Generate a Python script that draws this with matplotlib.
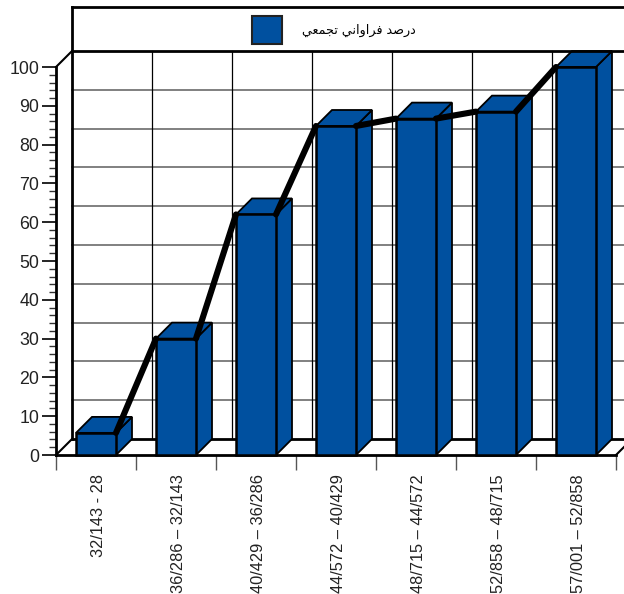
import matplotlib
matplotlib.use('Agg')
import matplotlib.pyplot as plt
from matplotlib.patches import Patch, Polygon

plt.rcParams['font.family'] = ['Liberation Sans', 'DejaVu Sans']

values = [5.7, 30, 62, 84.8, 86.7, 88.5, 100]
class_labels = ['32/143 - 28', '36/286 \u2013 32/143', '40/429 \u2013 36/286', '44/572 \u2013 40/429',
                '48/715 \u2013 44/572', '52/858 \u2013 48/715', '57/001 \u2013 52/858']
y_ticks = list(range(0, 101, 10))
y_minor = list(range(0, 101, 2))

# matplotlib has no arabic shaping, so presentation forms in visual order
legend_label = ('\uFEA9\uFEAD\uFEBB\uFEAA \uFED3\uFEAE\uFE8D\uFEED\uFE8D\uFEE7\uFEF2 '
                '\uFE97\uFEA0\uFEE4\uFECC\uFEF2')[::-1]

BLUE = '#00509F'
dx = 0.2    # depth of the fake 3d, in data units
dy = 4.12
bar_w = 0.5
right_edge = 7.2
top_edge = 115.5

fig = plt.figure(figsize=(6.24, 5.94), dpi=100)
ax = fig.add_axes([56 / 624, (594 - 455) / 594, 560 / 624, 388 / 594])
ax.set_xlim(0, 7)
ax.set_ylim(0, 100)
ax.patch.set_visible(False)

for s in ['top', 'right']:
    ax.spines[s].set_visible(False)
ax.spines['left'].set_linewidth(2)
ax.spines['bottom'].set_linewidth(2)

# back wall grid
for v in y_ticks[1:-1]:
    ax.plot([dx, right_edge], [v + dy, v + dy], color='#808080', lw=1.4, clip_on=False, zorder=1)
for i in range(1, 7):
    ax.plot([i + dx, i + dx], [dy, 100 + dy], color='black', lw=0.9, clip_on=False, zorder=1)

# floor and frame
ax.plot([dx, right_edge], [dy, dy], color='black', lw=2, clip_on=False, zorder=1.5)
ax.plot([0, dx], [0, dy], color='black', lw=1.5, clip_on=False, zorder=1.5)
ax.plot([7, 7.1], [0, dy / 2], color='black', lw=1.5, clip_on=False, zorder=1.5)
ax.plot([dx, dx], [dy, top_edge], color='black', lw=2, clip_on=False, zorder=5)
ax.plot([0, dx], [100, 100 + dy], color='black', lw=1.5, clip_on=False, zorder=5)
ax.plot([dx, right_edge], [100 + dy, 100 + dy], color='black', lw=2, clip_on=False, zorder=5)
ax.plot([dx, right_edge], [top_edge, top_edge], color='black', lw=2, clip_on=False, zorder=5)

# bars
for i, v in enumerate(values):
    x0 = i + 0.25
    x1 = x0 + bar_w
    side = Polygon([(x1, 0), (x1 + dx, dy), (x1 + dx, v + dy), (x1, v)], fc=BLUE, ec='black', lw=1.3,
                   clip_on=False, zorder=2)
    top = Polygon([(x0, v), (x0 + dx, v + dy), (x1 + dx, v + dy), (x1, v)], fc=BLUE, ec='black', lw=1.3,
                  clip_on=False, zorder=2)
    ax.add_patch(side)
    ax.add_patch(top)
    ax.bar(x0, v, width=bar_w, align='edge', color=BLUE, edgecolor='black', linewidth=1.8, clip_on=False, zorder=3)

# cumulative line only shows between the bars
for i in range(len(values) - 1):
    ax.plot([i + 0.75, i + 1.25], [values[i], values[i + 1]], color='black', lw=4.4,
            solid_capstyle='round', clip_on=False, zorder=4)

ax.set_xticks(range(8))
ax.set_xticks([i + 0.53 for i in range(7)], minor=True)
ax.set_xticklabels([])
ax.set_xticklabels(class_labels, minor=True, rotation=90, va='top', ha='center', fontsize=11.8, color='#222222')
ax.tick_params(axis='x', which='major', length=10.5, width=1, color='#555555')
ax.tick_params(axis='x', which='minor', length=0, pad=14)

ax.set_yticks(y_ticks)
ax.set_yticks(y_minor, minor=True)
ax.tick_params(axis='y', which='major', length=10, width=1.2, labelsize=12.8, labelcolor='#222222', pad=2)
ax.tick_params(axis='y', which='minor', length=5, width=1, color='#333333')

leg = ax.legend(handles=[Patch(facecolor=BLUE, edgecolor='#222222', linewidth=1.5, label=legend_label)],
                loc='center', bbox_to_anchor=(278 / 560, 1 + 37 / 388), frameon=False, fontsize=9.2,
                handlelength=2.35, handleheight=3.0, handletextpad=1.6, borderaxespad=0)
leg.get_texts()[0].set_fontfamily('DejaVu Sans')
leg.set_zorder(6)

fig.savefig('out.png', dpi=100)
plt.close(fig)
